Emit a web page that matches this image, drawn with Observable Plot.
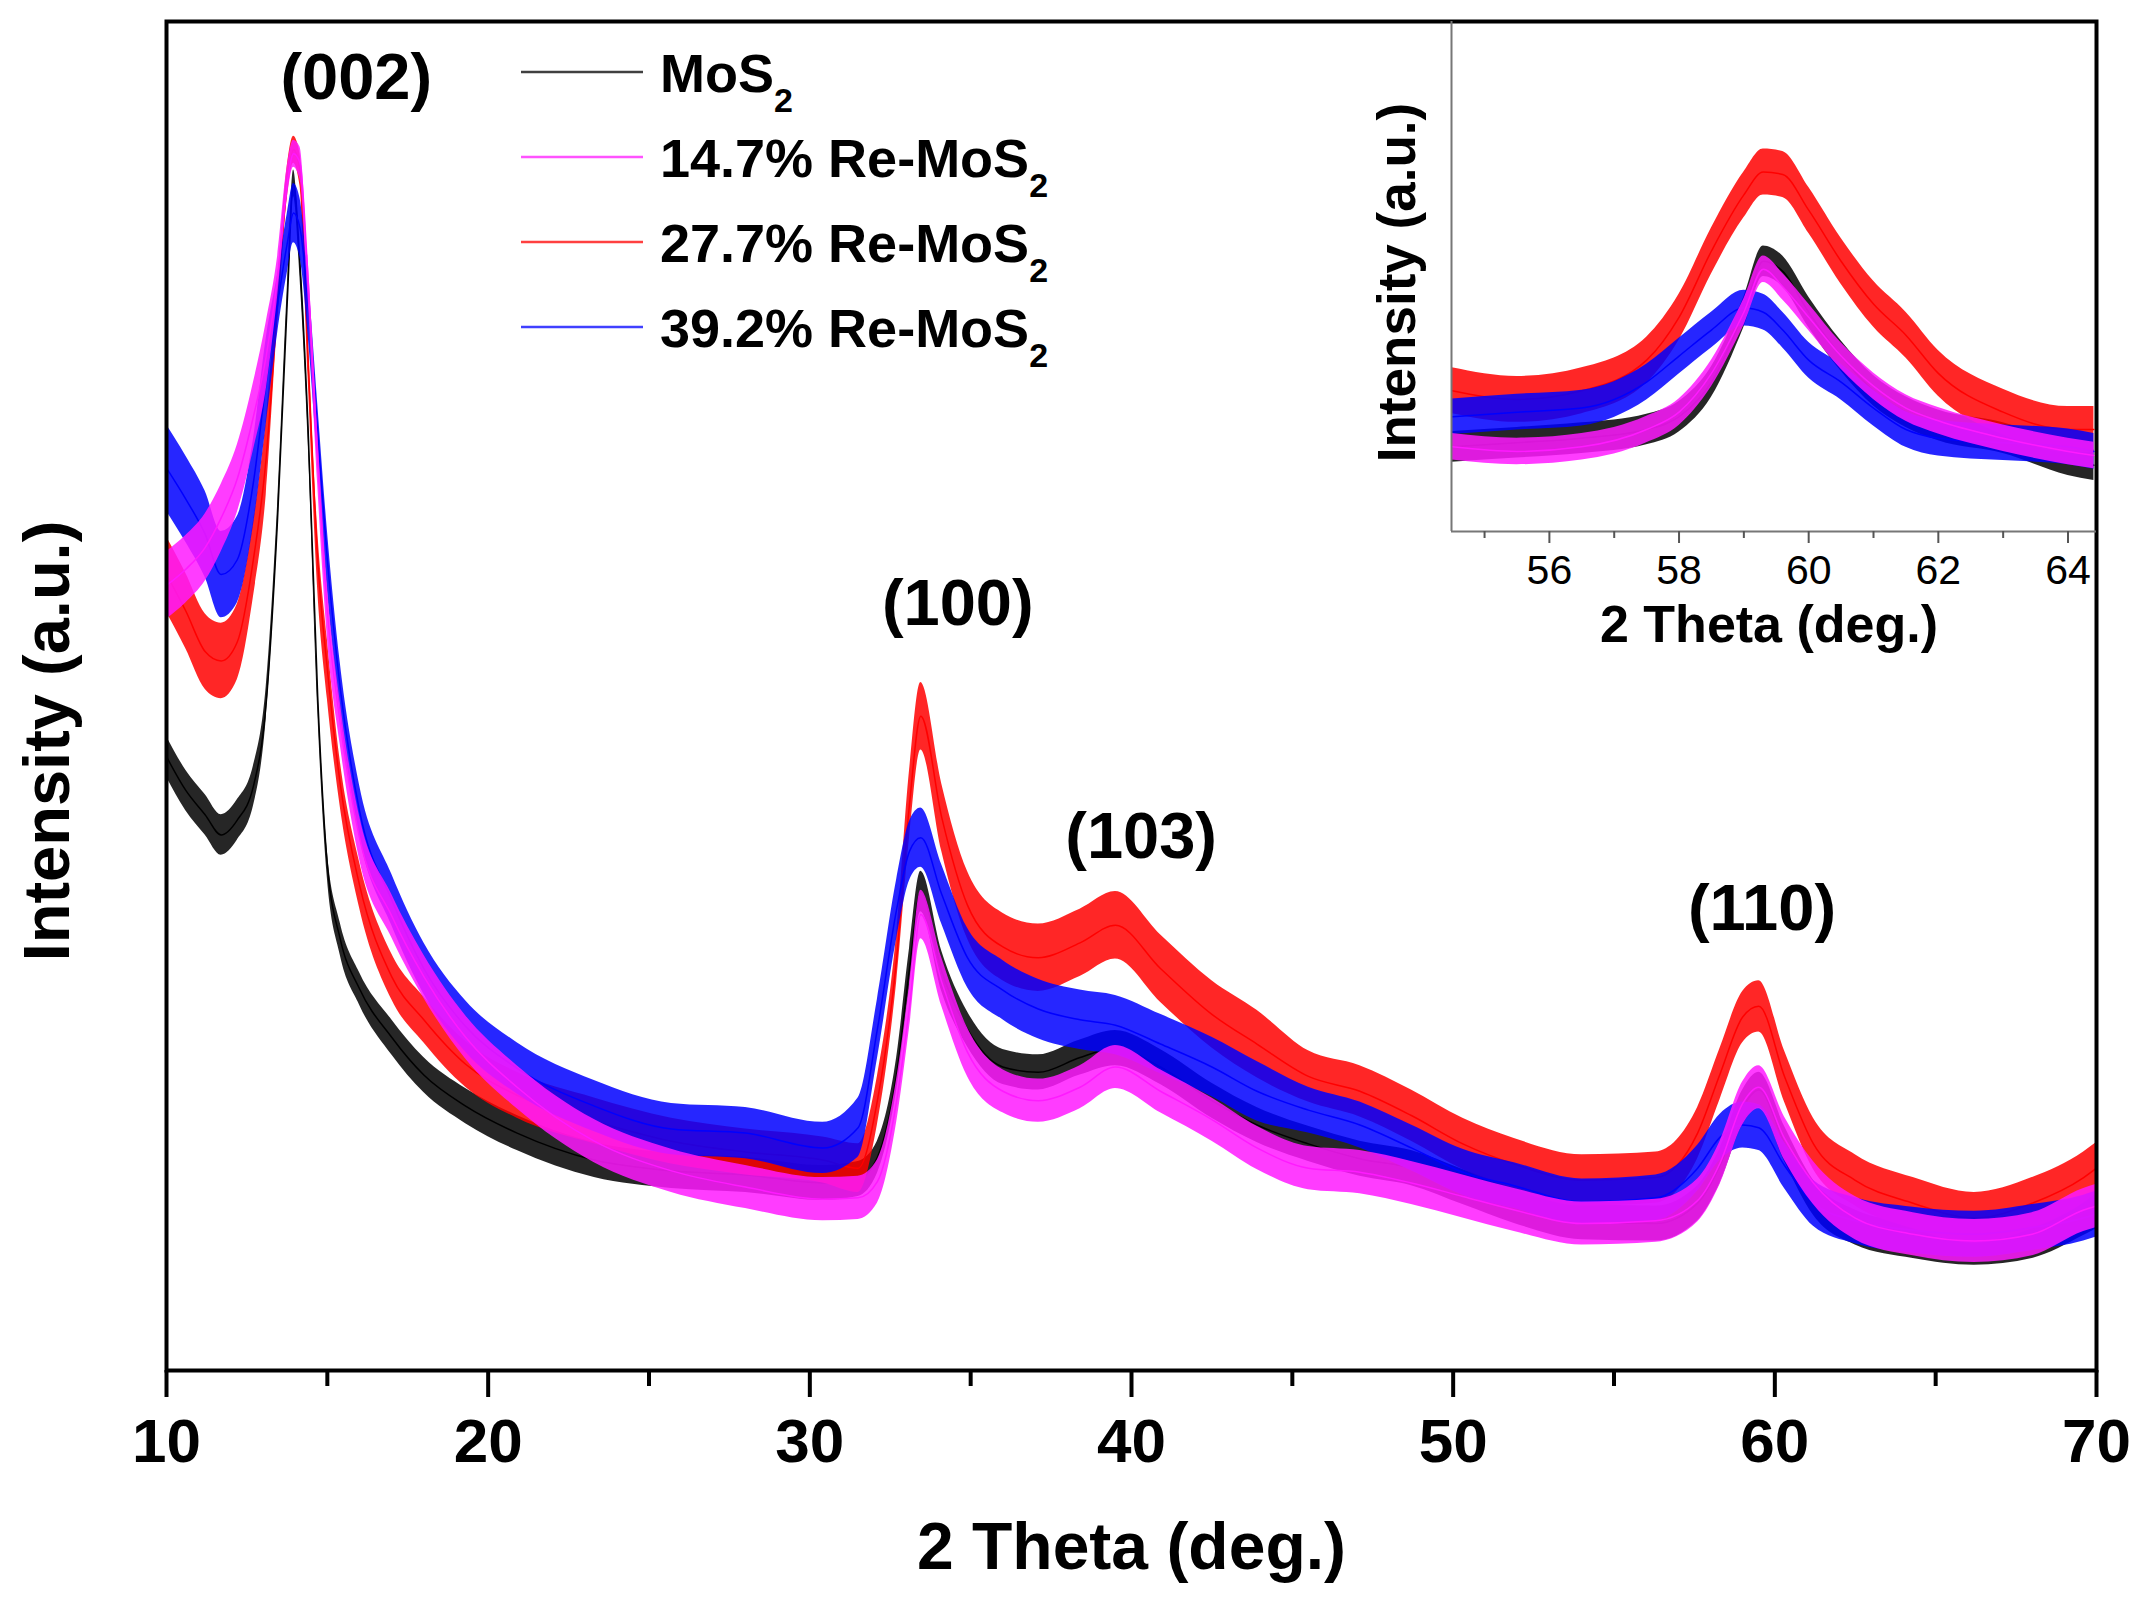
<!DOCTYPE html>
<html>
<head>
<meta charset="utf-8">
<script src="https://cdn.jsdelivr.net/npm/d3@7"></script>
<script src="https://cdn.jsdelivr.net/npm/@observablehq/plot@0.6"></script>
<style>
  html, body { margin: 0; padding: 0; background: white; }
  #wrap { position: relative; width: 2153px; height: 1600px; font-family: "Liberation Sans", Arial, sans-serif; }
  #wrap svg { position: absolute; }
  .mainplot text { font-weight: bold; }
</style>
</head>
<body>
<div id="wrap"></div>
<script>
// ---- main pattern: 2-theta grid (deg.) ----
const theta = [10, 10.6, 11.2, 11.7, 12.2, 12.7, 13.1, 13.45, 13.75, 13.95, 14.15, 14.4, 14.7, 15.0, 15.4, 16.0, 17.0, 18.0, 19.3, 20.9, 23.3, 25.7, 28.0, 30.4, 31.5, 32.1, 32.7, 33.1, 33.45, 34.1, 34.9, 36.0, 37.1, 38.4, 39.5, 40.9, 42.5, 43.9, 45.5, 47.1, 48.7, 50.3, 51.9, 54.0, 56.3, 57.6, 58.3, 59.0, 59.5, 60.3, 61.2, 62.5, 64.3, 66.2, 68.0, 69.6, 70];

// intensity (a.u.)
const mos2 = [45.5, 43, 41.2, 39.7, 40.8, 43.3, 49.5, 63, 79, 88, 82, 70, 50, 37.5, 32, 28.3, 24.7, 21.9, 19.6, 17.6, 15.6, 14.8, 14.5, 13.9, 14.2, 15.8, 22, 29.8, 35.5, 29.6, 25.3, 22.5, 22.1, 23.2, 23.9, 22.5, 20, 18.2, 16.8, 15.7, 15, 13.6, 12.2, 11, 10.9, 12.4, 15.2, 19.5, 20.8, 16.8, 12.8, 10.6, 9.6, 9.1, 9.6, 11.3, 11.8];
const re147 = [58.2, 59.4, 61, 63.2, 66.1, 70.7, 75.2, 81, 88, 90.2, 89.5, 81, 67.7, 56.3, 48, 39.5, 33.7, 29.2, 24.7, 21, 17, 14.8, 13.6, 12.7, 12.8, 14, 20, 27, 33.8, 28.8, 23.6, 20.7, 20, 21, 22.5, 20.7, 18.6, 16.5, 15, 14.7, 13.9, 12.9, 11.9, 10.9, 11.1, 12.6, 15.4, 19.8, 21, 17.2, 13.9, 11.3, 10.1, 9.6, 10.1, 11.9, 12.2];
const re277 = [59, 56.3, 53.3, 52.6, 54, 60.1, 67.7, 79, 88, 90.5, 89, 75.2, 60.1, 52, 43.5, 36, 29.2, 26, 22.7, 20.4, 18.5, 17, 16.2, 15.6, 15, 20, 30.6, 42, 48.5, 41, 34.5, 31.4, 30.6, 31.7, 33, 29.8, 26.4, 24.2, 21.8, 20.7, 18.9, 16.8, 15.3, 14.1, 14.3, 17.6, 22, 26.2, 27, 21.8, 16.8, 14.1, 12.4, 11.3, 12.4, 14.3, 15];
const re392 = [66.9, 64.6, 62, 59, 60.1, 65.8, 73.3, 79, 83.5, 85.8, 84.7, 79, 69.5, 60.1, 50.6, 41.5, 34.9, 29.8, 25.5, 22.4, 19.6, 17.9, 17.6, 16.5, 18, 25.3, 34.2, 38.5, 39.5, 35.3, 30.6, 28.2, 26.8, 26, 25.6, 24.2, 22.5, 20.7, 19.3, 18.2, 16.5, 14.7, 13.7, 12.5, 12.8, 15, 17.3, 18.2, 18, 15.2, 12.4, 11.1, 10.4, 10.1, 10.6, 11.3, 11.6];

// half-width of the noise band seen round each trace
const mos2Noise  = [1.5, 1.5, 1.5, 1.5, 1.5, 1.5, 1.2, 1, 1, 1, 1, 1, 1, 1, 1.2, 1.2, 1.3, 1.3, 1.3, 1.3, 1.3, 1.3, 1.3, 1.3, 1.3, 1.2, 1.2, 1.5, 1.5, 1.5, 1.3, 1.3, 1.3, 1.3, 1.3, 1.3, 1.3, 1.3, 1.3, 1.3, 1.3, 1.3, 1.3, 1.3, 1.3, 1.3, 1.3, 1.3, 1.3, 1.3, 1.3, 1.3, 1.3, 1.3, 1.3, 1.3, 1.3];
const re147Noise = [2.5, 2.5, 2.5, 2.5, 2.5, 2.5, 2.5, 1.5, 1.2, 1, 1.2, 1.5, 2, 2, 1.6, 1.6, 1.6, 1.6, 1.6, 1.6, 1.6, 1.6, 1.6, 1.6, 1.6, 1.6, 1.6, 1.6, 1.8, 1.8, 1.8, 1.6, 1.6, 1.6, 1.6, 1.6, 1.6, 1.6, 1.6, 1.6, 1.6, 1.6, 1.6, 1.6, 1.6, 1.6, 1.6, 1.6, 1.6, 1.6, 1.6, 1.6, 1.6, 1.6, 1.6, 1.6, 1.6];
const re277Noise = [2.8, 2.8, 2.8, 2.8, 2.8, 2.8, 2.8, 1.5, 1.2, 1, 1.2, 1.5, 2.2, 2.2, 1.7, 1.7, 1.7, 1.7, 1.7, 1.7, 1.7, 1.7, 1.7, 1.7, 1.8, 1.8, 1.8, 2.5, 2.5, 2.5, 2.5, 2.5, 2.5, 2.5, 2.5, 2.5, 2.5, 2.5, 1.9, 1.9, 1.9, 1.9, 1.9, 1.9, 1.9, 1.9, 1.9, 1.9, 1.9, 1.9, 1.9, 1.9, 1.9, 1.9, 1.9, 1.9, 1.9];
const re392Noise = [3.2, 3.2, 3.2, 3.2, 3.2, 3.2, 3.2, 2.2, 2.2, 2.2, 2.2, 2.2, 2.2, 2.2, 1.9, 1.9, 1.9, 1.9, 1.9, 1.9, 1.9, 1.9, 1.9, 1.9, 2.2, 2.2, 2.2, 2.2, 2.2, 2.2, 2.2, 2.2, 2.2, 2.2, 2.2, 2.2, 2.2, 2.2, 1.7, 1.7, 1.7, 1.7, 1.7, 1.7, 1.7, 1.7, 1.7, 1.7, 1.7, 1.7, 1.7, 1.7, 1.7, 1.7, 1.7, 1.7, 1.7];

// ---- inset (110) region ----
const insetTheta = [54.5, 55.5, 56.5, 57.5, 58, 58.5, 59, 59.3, 59.6, 60, 60.5, 61, 61.5, 62, 63, 64, 64.4];
const insetMos2  = [16.6, 17.4, 18.3, 20, 22.5, 29.3, 43, 53, 51, 43, 34.4, 27.6, 23.4, 20.8, 18.3, 14, 13];
const insetRe147 = [16.6, 15.7, 16.6, 20, 23.4, 31, 43, 51.4, 48, 42, 34.4, 28.5, 24.2, 21.7, 18.3, 15.7, 14.9];
const insetRe277 = [27.6, 25.9, 27.6, 33.6, 42, 55, 66, 70.5, 70, 63, 53, 44.6, 38.5, 31, 23.4, 20, 20];
const insetRe392 = [22.5, 23.4, 24.2, 29.3, 34.4, 39.5, 43.8, 43, 39.5, 33.6, 29.3, 24.2, 20, 18.3, 17.4, 16.6, 15.7];
const insetNoise = {mos2: 3, re147: 2.6, re277: 4.5, re392: 3.5};

// ---- series, labels, ticks ----
const seriesKeys   = ["mos2", "re147", "re277", "re392"];
const seriesNames  = ["MoS", "14.7% Re-MoS", "27.7% Re-MoS", "39.2% Re-MoS"];
const seriesSub    = ["2", "2", "2", "2"];
const seriesColors = ["#000000", "#ff1aff", "#ff0000", "#0000ff"];
const drawOrder    = ["mos2", "re277", "re392", "re147"];

const peakNames = ["(002)", "(100)", "(103)", "(110)"];
const peakTheta = [15.9, 34.6, 40.3, 59.6];
const peakLabelY = [95.8, 56.8, 39.5, 34.2];

const mainDomain = [10, 70];
const mainTicks = [10, 20, 30, 40, 50, 60, 70];
const mainMinor = [15, 25, 35, 45, 55, 65];
const insetDomain = [54.49, 64.44];
const insetTicks = [56, 58, 60, 62, 64];
const insetMinor = [55, 57, 59, 61, 63];

// ---- build tables ----
const mainVals = {mos2, re147, re277, re392};
const mainNoise = {mos2: mos2Noise, re147: re147Noise, re277: re277Noise, re392: re392Noise};
const insetVals = {mos2: insetMos2, re147: insetRe147, re277: insetRe277, re392: insetRe392};
const colorOf = Object.fromEntries(seriesKeys.map((k, i) => [k, seriesColors[i]]));

function mainRows(k) {
  return theta.map((t, i) => ({t, v: mainVals[k][i], lo: mainVals[k][i] - mainNoise[k][i], hi: mainVals[k][i] + mainNoise[k][i]}));
}
function insetRows(k) {
  return insetTheta.map((t, i) => ({t, v: insetVals[k][i], lo: insetVals[k][i] - insetNoise[k], hi: insetVals[k][i] + insetNoise[k]}));
}
function traceMarks(rowsFn) {
  return drawOrder.flatMap(k => {
    const rows = rowsFn(k);
    return [
      Plot.areaY(rows, {x: "t", y1: "lo", y2: "hi", fill: colorOf[k], fillOpacity: 0.85, curve: "monotone-x"}),
      Plot.line(rows, {x: "t", y: "v", stroke: colorOf[k], strokeWidth: 1.5, curve: "monotone-x"})
    ];
  });
}

const font = "'Liberation Sans', Arial, sans-serif";
const peaks = peakNames.map((n, i) => ({n, t: peakTheta[i], y: peakLabelY[i]}));

const main = Plot.plot({
  width: 2153, height: 1600,
  marginLeft: 166, marginRight: 57, marginTop: 21, marginBottom: 230,
  className: "mainplot",
  style: {fontFamily: font, background: "white", overflow: "visible"},
  x: {domain: mainDomain},
  y: {domain: [0, 100], axis: null},
  marks: [
    ...traceMarks(mainRows),
    Plot.frame({stroke: "black", strokeWidth: 4}),
    Plot.axisX({ticks: mainTicks, tickSize: 27, tickPadding: 20, fontSize: 62, fontWeight: "bold", strokeWidth: 4, label: null, tickFormat: d => String(d)}),
    Plot.axisX({ticks: mainMinor, tickSize: 16, text: null, strokeWidth: 4, label: null}),
    Plot.text(["2 Theta (deg.)"], {frameAnchor: "bottom", lineAnchor: "middle", dy: 177, fontSize: 66, fontWeight: "bold", fill: "black"}),
    Plot.text(["Intensity (a.u.)"], {frameAnchor: "left", textAnchor: "middle", lineAnchor: "middle", rotate: -90, dx: -118, dy: 45, fontSize: 65, fontWeight: "bold", fill: "black"}),
    Plot.text(peaks, {x: "t", y: "y", text: "n", fontSize: 65, fontWeight: "bold", fill: "black"})
  ]
});
main.style.left = "0px"; main.style.top = "0px";

const inset = Plot.plot({
  width: 726, height: 639,
  marginLeft: 81, marginRight: 0, marginTop: 0, marginBottom: 129,
  style: {fontFamily: font, background: "transparent", overflow: "visible"},
  x: {domain: insetDomain},
  y: {domain: [0, 100], axis: null},
  marks: [
    ...traceMarks(insetRows),
    Plot.ruleX([insetDomain[0]], {stroke: "#777", strokeWidth: 2}),
    Plot.ruleY([0], {stroke: "#777", strokeWidth: 2}),
    Plot.axisX({ticks: insetTicks, tickSize: 12, tickPadding: 11, fontSize: 41, stroke: "#555", strokeWidth: 2, label: null, tickFormat: d => String(d)}),
    Plot.axisX({ticks: insetMinor, tickSize: 7, text: null, stroke: "#555", strokeWidth: 2, label: null}),
    Plot.text(["2 Theta (deg.)"], {frameAnchor: "bottom", lineAnchor: "middle", dy: 94, dx: -5, fontSize: 52, fontWeight: "bold", fill: "black"}),
    Plot.text(["Intensity (a.u.)"], {frameAnchor: "left", textAnchor: "middle", lineAnchor: "middle", rotate: -90, dx: -53, dy: 6, fontSize: 53, fontWeight: "bold", fill: "black"})
  ]
});
inset.style.left = "1370px"; inset.style.top = "21px";

const wrap = document.getElementById("wrap");
wrap.appendChild(main);
wrap.appendChild(inset);

// ---- legend (inside the frame, upper left) ----
const leg = d3.create("svg").attr("width", 1100).attr("height", 380)
  .style("left", "0px").style("top", "0px").style("overflow", "visible");
seriesKeys.forEach((k, i) => {
  const base = 92 + i * 85;
  leg.append("line").attr("x1", 521).attr("x2", 643).attr("y1", base - 20).attr("y2", base - 20)
    .attr("stroke", seriesColors[i]).attr("stroke-width", 2.5).attr("stroke-opacity", 0.75);
  const t = leg.append("text").attr("x", 660).attr("y", base)
    .attr("font-family", font).attr("font-weight", "bold").attr("font-size", 54).attr("fill", "black");
  t.append("tspan").text(seriesNames[i]);
  t.append("tspan").attr("font-size", 34).attr("dy", 20).text(seriesSub[i]);
});
wrap.appendChild(leg.node());
</script>
</body>
</html>
